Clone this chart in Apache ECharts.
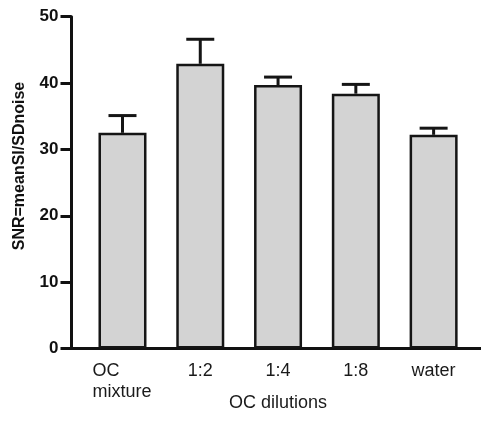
<!DOCTYPE html>
<html>
<head>
<meta charset="utf-8">
<script src="https://cdn.jsdelivr.net/npm/echarts@6/dist/echarts.min.js"></script>
<style>html,body{margin:0;padding:0;background:#fff}#c{width:481px;height:421px}</style>
</head>
<body>
<div id="c"></div>
<script>
var categories = ['OC\nmixture', '1:2', '1:4', '1:8', 'water'];
var means = [32.5, 42.9, 39.7, 38.4, 32.2];
var upperErr = [35.1, 46.6, 40.9, 39.8, 33.2];
var yTicks = [0, 10, 20, 30, 40, 50];

var chart = echarts.init(document.getElementById('c'), null, {renderer: 'canvas'});
var errData = means.map(function (m, i) { return [i, m, upperErr[i]]; });
var FONT = '"Liberation Sans", Arial, Helvetica, sans-serif';

chart.setOption({
  animation: false,
  backgroundColor: '#ffffff',
  grid: [
    {left: 71.5, right: 0, top: 16.7, bottom: 72.5, containLabel: false, outerBoundsMode: 'none'},
    {left: 83.6, right: 8.5, top: 16.7, bottom: 72.5, containLabel: false, outerBoundsMode: 'none'}
  ],
  xAxis: [
    {gridIndex: 0, type: 'value', min: 0, max: 1,
     axisLine: {show: true, onZero: false, lineStyle: {color: '#111', width: 3}},
     axisTick: {show: false}, axisLabel: {show: false}, splitLine: {show: false}},
    {gridIndex: 1, type: 'category', data: categories,
     axisLine: {show: false}, axisTick: {show: false}, splitLine: {show: false},
     axisLabel: {
       interval: 0, margin: 12, color: '#1a1a1a', fontSize: 18, fontFamily: FONT,
       formatter: function (v) {
         if (v.indexOf('\n') >= 0) {
           return v.split('\n').map(function (s) { return '{a|' + s + '}'; }).join('\n');
         }
         return v;
       },
       rich: {a: {width: 60, align: 'left', fontSize: 18, fontFamily: FONT, color: '#1a1a1a', lineHeight: 21}},
       lineHeight: 21
     },
     name: 'OC dilutions', nameLocation: 'middle', nameGap: 46, nameMoveOverlap: false,
     nameTextStyle: {color: '#1a1a1a', fontSize: 18, fontFamily: FONT}}
  ],
  yAxis: [
    {gridIndex: 0, type: 'value', min: 0, max: 50, interval: 10,
     axisLine: {show: true, lineStyle: {color: '#111', width: 3}},
     axisTick: {show: true, length: 11, lineStyle: {color: '#111', width: 3}},
     axisLabel: {margin: 13, color: '#111', fontSize: 17, fontWeight: 'bold', fontFamily: FONT,
       formatter: function (v) { return yTicks.indexOf(v) >= 0 ? String(v) : ''; }},
     splitLine: {show: false}},
    {gridIndex: 1, type: 'value', min: 0, max: 50, show: false}
  ],
  graphic: [{
    type: 'text', x: 19.5, y: 166, rotation: Math.PI / 2,
    style: {text: 'SNR=meanSI/SDnoise', fill: '#111', font: 'bold 16px ' + FONT,
            align: 'center', verticalAlign: 'middle'}
  }],
  series: [
    {type: 'bar', xAxisIndex: 1, yAxisIndex: 1, data: means, barWidth: 48,
     itemStyle: {color: '#d3d3d3', borderColor: '#151515', borderWidth: 2.5}, z: 2},
    {type: 'custom', xAxisIndex: 1, yAxisIndex: 1, data: errData, z: 3,
     renderItem: function (params, api) {
       var x = api.value(0);
       var base = api.coord([x, api.value(1)]);
       var top = api.coord([x, api.value(2)]);
       var hw = 14;
       var st = {stroke: '#151515', lineWidth: 3, fill: null};
       return {type: 'group', children: [
         {type: 'line', shape: {x1: base[0], y1: base[1], x2: top[0], y2: top[1]}, style: st},
         {type: 'line', shape: {x1: top[0] - hw, y1: top[1], x2: top[0] + hw, y2: top[1]}, style: st}
       ]};
     }}
  ]
});
</script>
</body>
</html>
